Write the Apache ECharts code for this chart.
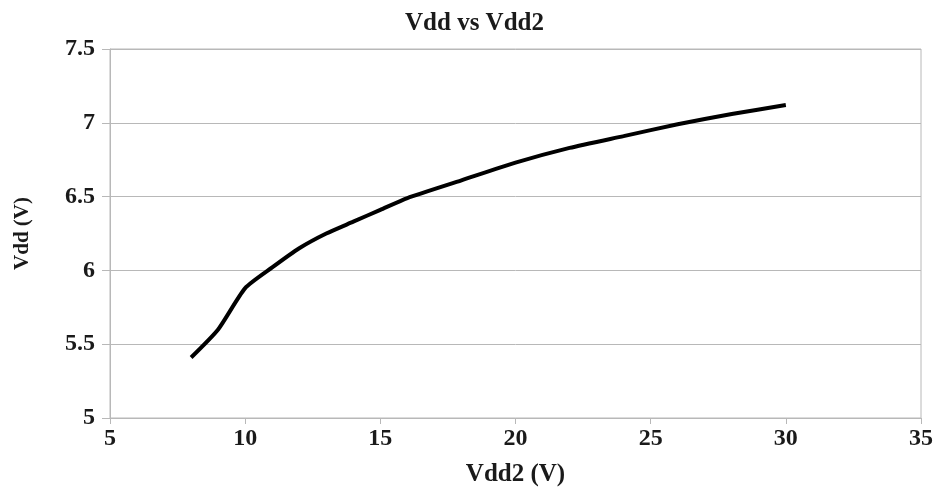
<!DOCTYPE html>
<html>
<head>
<meta charset="utf-8">
<script src="https://cdn.jsdelivr.net/npm/echarts@6/dist/echarts.min.js"></script>
<style>
  html, body { margin: 0; padding: 0; background: #fff; }
  #chart { width: 949px; height: 497px; }
</style>
</head>
<body>
<div id="chart"></div>
<script>
// Vdd2 (V) on x, Vdd (V) on y
const vdd2 = [8, 9, 10, 11, 12, 13, 14, 15, 16, 18, 20, 22, 24, 26, 28, 30];
const vdd = [5.41, 5.6, 5.88, 6.02, 6.15, 6.25, 6.33, 6.41, 6.49, 6.61, 6.73, 6.83, 6.91, 6.99, 7.06, 7.12];

const fontSerif = "'Liberation Serif', 'DejaVu Serif', serif";

var chartDom = document.getElementById("chart");
var myChart = echarts.init(chartDom);
var option;

option = {
  animation: false,
  title: {
    text: "Vdd vs Vdd2",
    left: "center",
    top: 6,
    textStyle: {
      fontFamily: fontSerif,
      fontWeight: "bold",
      fontSize: 25,
      color: "#1a1a1a",
    },
  },
  grid: {
    left: 110,
    right: 28,
    top: 49,
    bottom: 79,
    show: true,
    borderColor: "#b8b8b8",
    borderWidth: 1,
  },
  xAxis: {
    type: "value",
    min: 5,
    max: 35,
    interval: 5,
    name: "Vdd2 (V)",
    nameLocation: "middle",
    nameGap: 44,
    nameTextStyle: {
      fontFamily: fontSerif,
      fontWeight: "bold",
      fontSize: 25,
      color: "#1a1a1a",
    },
    axisLine: { lineStyle: { color: "#b8b8b8" } },
    axisTick: { show: true, length: 6, lineStyle: { color: "#b8b8b8" } },
    splitLine: { show: false },
    axisLabel: {
      fontFamily: fontSerif,
      fontWeight: "bold",
      fontSize: 24,
      color: "#1a1a1a",
      margin: 9,
    },
  },
  yAxis: {
    type: "value",
    min: 5,
    max: 7.5,
    interval: 0.5,
    name: "Vdd (V)",
    nameLocation: "middle",
    nameGap: 77,
    nameTextStyle: {
      fontFamily: fontSerif,
      fontWeight: "bold",
      fontSize: 21,
      color: "#1a1a1a",
    },
    axisLine: { show: true, lineStyle: { color: "#b8b8b8" } },
    axisTick: { show: true, length: 8, lineStyle: { color: "#b8b8b8" } },
    splitLine: { lineStyle: { color: "#b8b8b8" } },
    axisLabel: {
      fontFamily: fontSerif,
      fontWeight: "bold",
      fontSize: 24,
      color: "#1a1a1a",
      margin: 15,
    },
  },
  series: [
    {
      type: "line",
      data: vdd2.map((x, i) => [x, vdd[i]]),
      showSymbol: false,
      smooth: 0.2,
      lineStyle: { color: "#000", width: 4 },
    },
  ],
};

option && myChart.setOption(option);
</script>
</body>
</html>
